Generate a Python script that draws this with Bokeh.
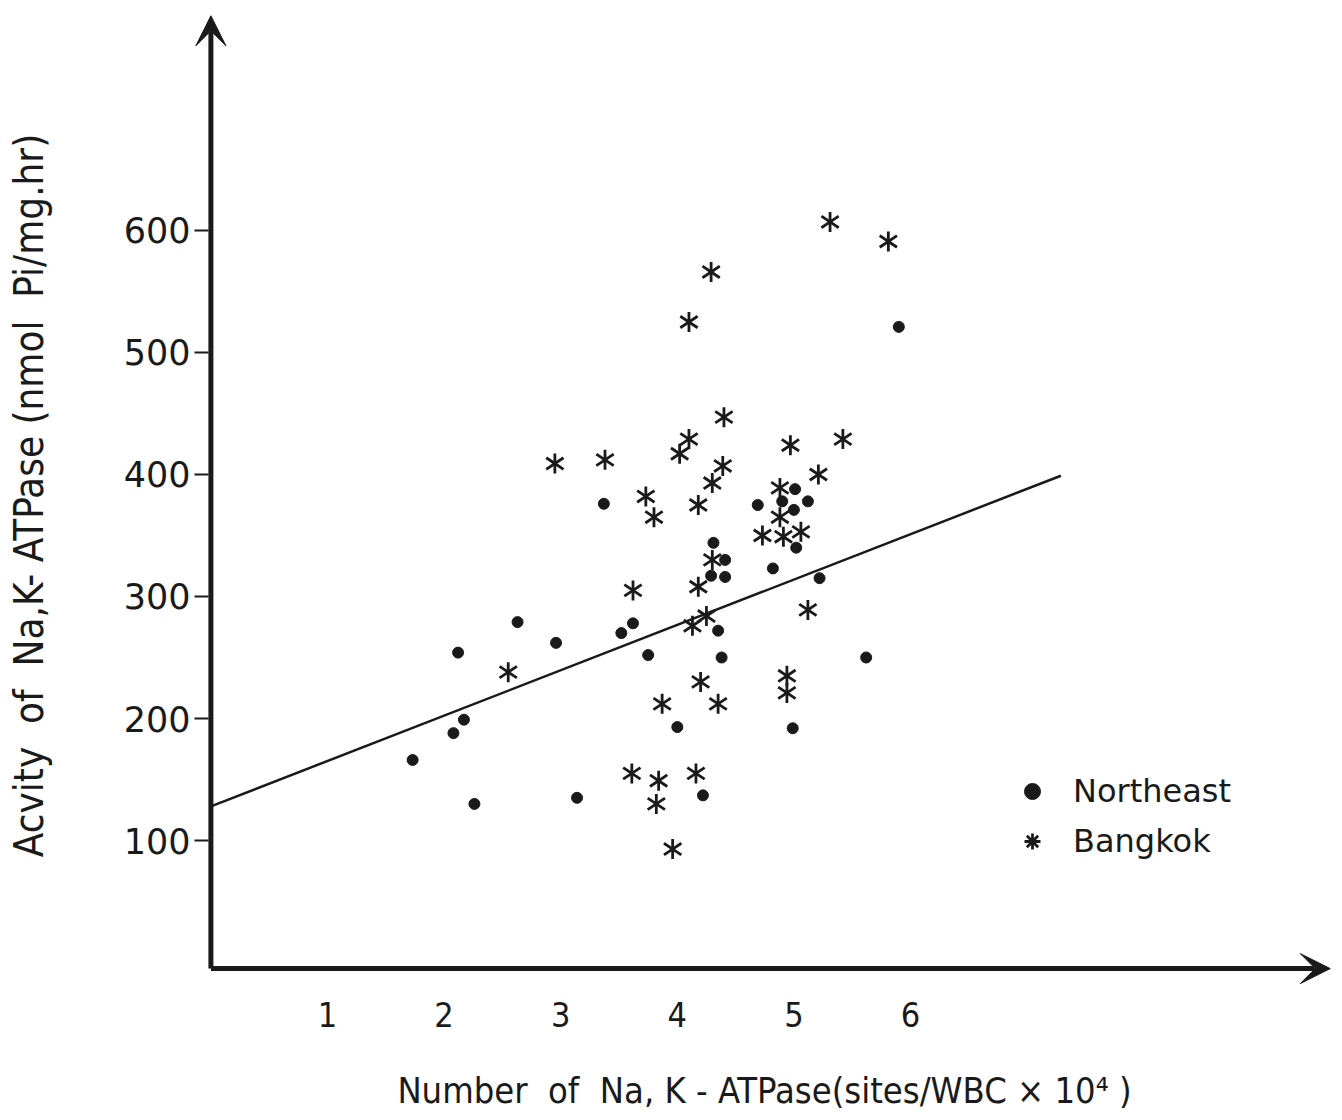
import math
from bokeh.plotting import figure
from bokeh.models import Range1d, FixedTicker, Arrow, VeeHead, Legend, LegendItem
from bokeh.embed import file_html
from bokeh.resources import INLINE

# Northeast (dots)
ne_x = [1.73, 2.12, 2.17, 2.08, 2.26, 2.63, 2.96, 3.14, 3.37, 3.52, 3.62, 3.75, 4.00, 4.22,
        4.31, 4.29, 4.41, 4.41, 4.35, 4.38, 4.69, 4.82, 4.90, 5.01, 5.00, 5.12, 5.02, 5.22,
        4.99, 5.62, 5.90]
ne_y = [166, 254, 199, 188, 130, 279, 262, 135, 376, 270, 278, 252, 193, 137,
        344, 317, 330, 316, 272, 250, 375, 323, 378, 388, 371, 378, 340, 315,
        192, 250, 521]

# Bangkok (asterisks)
bkk_x = [2.55, 2.95, 3.38, 3.62, 3.73, 3.80, 3.61, 3.84, 3.82, 4.16, 3.96, 3.87, 4.20, 4.35,
         4.94, 4.94, 4.10, 4.02, 4.40, 4.39, 4.30, 4.18, 4.30, 4.18, 4.25, 4.13, 4.97, 5.42,
         5.21, 4.88, 4.88, 4.73, 4.91, 5.06, 5.12, 5.31, 5.81, 4.29, 4.10]
bkk_y = [238, 409, 412, 305, 382, 365, 155, 149, 130, 155, 93, 212, 230, 212,
         235, 221, 429, 417, 447, 407, 393, 375, 330, 308, 284, 276, 424, 429,
         400, 389, 365, 350, 349, 353, 289, 607, 591, 566, 525]

# Regression line end points
fit_x = [0.0, 7.29]
fit_y = [128, 399]

x_ticks = [1, 2, 3, 4, 5, 6]
y_ticks = [100, 200, 300, 400, 500, 600]

NB = "\u00a0"
x_title = f"Number{NB} of{NB} Na, K - ATPase(sites/WBC × 10⁴ )"
y_title = f"Acvity{NB} of{NB} Na,K- ATPase (nmol{NB} Pi/mg.hr)"

INK = "#1a1a1a"
NARROW = "DejaVu Sans Condensed, Roboto, sans-serif"

p = figure(width=1338, height=1118, output_backend="svg", toolbar_location=None,
           x_range=Range1d(-0.1407, 9.6364), y_range=Range1d(-18.03, 783.6),
           min_border_left=194, min_border_right=4, min_border_top=6,
           min_border_bottom=134)
p.grid.visible = False
p.outline_line_color = None
p.background_fill_color = "white"

# x axis
xa = p.xaxis[0]
xa.ticker = FixedTicker(ticks=x_ticks)
xa.axis_line_color = None
xa.major_tick_line_color = None
xa.minor_tick_line_color = None
xa.major_label_standoff = 11
xa.major_label_text_font = NARROW
xa.major_label_text_font_size = "34px"
xa.major_label_text_color = INK
xa.axis_label = x_title
xa.axis_label_text_font = NARROW
xa.axis_label_text_font_size = "36px"
xa.axis_label_text_font_style = "normal"
xa.axis_label_text_color = INK
xa.axis_label_standoff = 40

# y axis (ticks drawn inward from the frame edge up to the arrow shaft)
ya = p.yaxis[0]
ya.ticker = FixedTicker(ticks=y_ticks)
ya.axis_line_color = None
ya.major_tick_out = 0
ya.major_tick_in = 14
ya.major_tick_line_width = 2
ya.major_tick_line_color = INK
ya.minor_tick_line_color = None
ya.major_label_standoff = 4
ya.major_label_text_font = "DejaVu Sans"
ya.major_label_text_font_size = "35px"
ya.major_label_text_color = INK
ya.axis_label = y_title
ya.axis_label_text_font = NARROW
ya.axis_label_text_font_size = "40px"
ya.axis_label_text_font_style = "normal"
ya.axis_label_text_color = INK
ya.axis_label_standoff = 69

# axis arrows
p.add_layout(Arrow(end=VeeHead(size=30, fill_color=INK, line_color=INK),
                   x_start=0, y_start=-5, x_end=0, y_end=776,
                   line_width=5, line_color=INK))
p.add_layout(Arrow(end=VeeHead(size=30, fill_color=INK, line_color=INK),
                   x_start=0, y_start=-5, x_end=9.6, y_end=-5,
                   line_width=5, line_color=INK))

# regression line
p.line(fit_x, fit_y, line_width=2.5, line_color=INK)

r_ne = p.scatter(ne_x, ne_y, marker="circle", size=11, fill_color=INK, line_color=INK)
# six-armed asterisks: two opposite "y" markers
r_b1 = p.scatter(bkk_x, bkk_y, marker="y", size=20, line_width=2.8, line_color=INK, angle=0)
r_b2 = p.scatter(bkk_x, bkk_y, marker="y", size=20, line_width=2.8, line_color=INK, angle=math.pi)
# legend-only glyph (hidden renderer)
r_bleg = p.scatter(bkk_x, bkk_y, marker="asterisk", size=20, line_width=2.8,
                   line_color=INK, visible=False)

legend = Legend(items=[LegendItem(label="Northeast", renderers=[r_ne]),
                       LegendItem(label="Bangkok", renderers=[r_bleg])],
                location=(818, 123), glyph_width=40, glyph_height=40, spacing=10,
                padding=0, margin=0, label_standoff=21, border_line_color=None,
                background_fill_alpha=0, inactive_fill_alpha=0,
                label_text_font="DejaVu Sans",
                label_text_font_size="32px", label_text_color=INK)
p.add_layout(legend)

open("out.html", "w").write(file_html(p, INLINE))
